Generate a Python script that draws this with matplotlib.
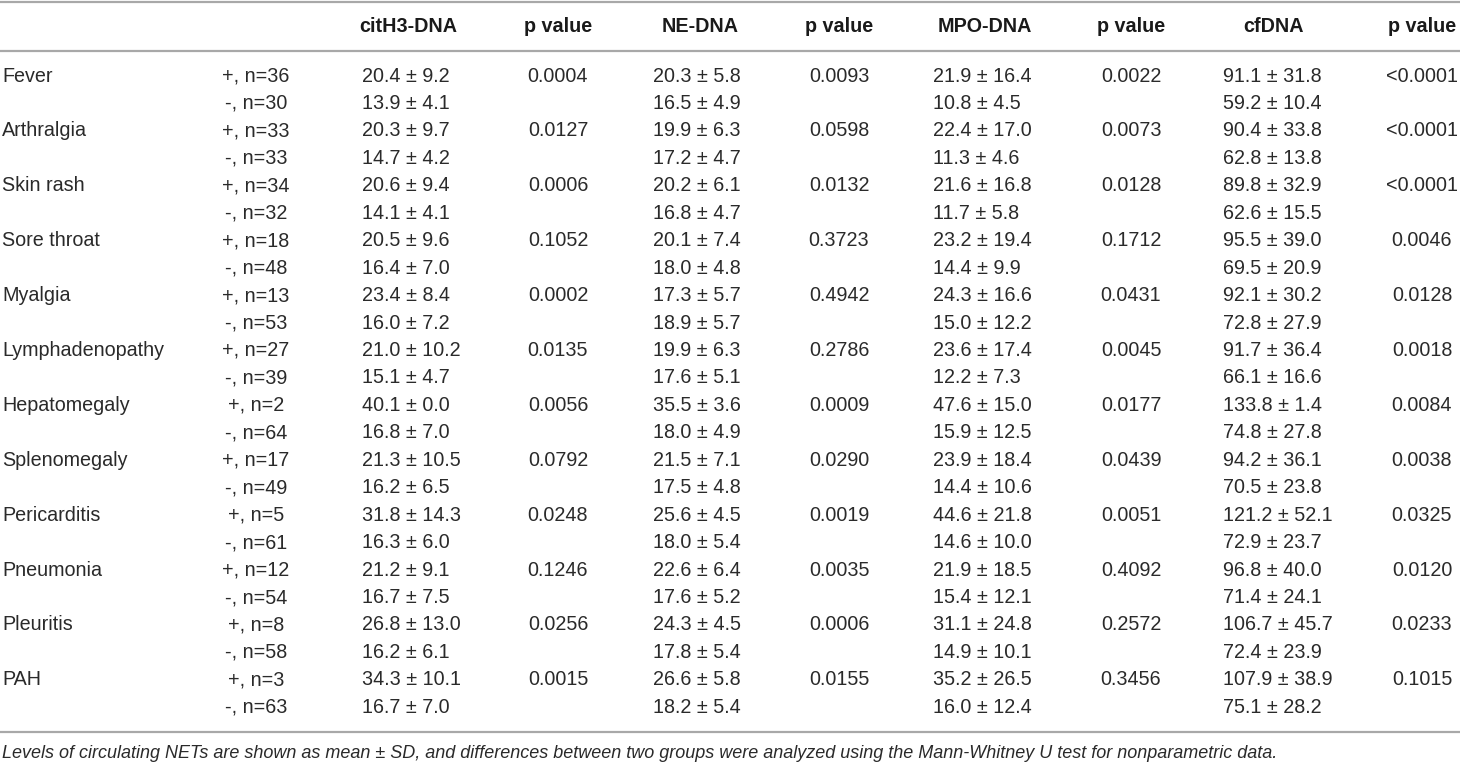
import matplotlib
matplotlib.use("Agg")
import matplotlib.pyplot as plt

categories = ["Fever", "Arthralgia", "Skin rash", "Sore throat", "Myalgia",
              "Lymphadenopathy", "Hepatomegaly", "Splenomegaly", "Pericarditis",
              "Pneumonia", "Pleuritis", "PAH"]
n_pos = [36, 33, 34, 18, 13, 27, 2, 17, 5, 12, 8, 3]
n_neg = [30, 33, 32, 48, 53, 39, 64, 49, 61, 54, 58, 63]

citH3_pos_mean = [20.4, 20.3, 20.6, 20.5, 23.4, 21.0, 40.1, 21.3, 31.8, 21.2, 26.8, 34.3]
citH3_pos_sd = [9.2, 9.7, 9.4, 9.6, 8.4, 10.2, 0.0, 10.5, 14.3, 9.1, 13.0, 10.1]
citH3_neg_mean = [13.9, 14.7, 14.1, 16.4, 16.0, 15.1, 16.8, 16.2, 16.3, 16.7, 16.2, 16.7]
citH3_neg_sd = [4.1, 4.2, 4.1, 7.0, 7.2, 4.7, 7.0, 6.5, 6.0, 7.5, 6.1, 7.0]
citH3_p = ["0.0004", "0.0127", "0.0006", "0.1052", "0.0002", "0.0135",
           "0.0056", "0.0792", "0.0248", "0.1246", "0.0256", "0.0015"]

ne_pos_mean = [20.3, 19.9, 20.2, 20.1, 17.3, 19.9, 35.5, 21.5, 25.6, 22.6, 24.3, 26.6]
ne_pos_sd = [5.8, 6.3, 6.1, 7.4, 5.7, 6.3, 3.6, 7.1, 4.5, 6.4, 4.5, 5.8]
ne_neg_mean = [16.5, 17.2, 16.8, 18.0, 18.9, 17.6, 18.0, 17.5, 18.0, 17.6, 17.8, 18.2]
ne_neg_sd = [4.9, 4.7, 4.7, 4.8, 5.7, 5.1, 4.9, 4.8, 5.4, 5.2, 5.4, 5.4]
ne_p = ["0.0093", "0.0598", "0.0132", "0.3723", "0.4942", "0.2786",
        "0.0009", "0.0290", "0.0019", "0.0035", "0.0006", "0.0155"]

mpo_pos_mean = [21.9, 22.4, 21.6, 23.2, 24.3, 23.6, 47.6, 23.9, 44.6, 21.9, 31.1, 35.2]
mpo_pos_sd = [16.4, 17.0, 16.8, 19.4, 16.6, 17.4, 15.0, 18.4, 21.8, 18.5, 24.8, 26.5]
mpo_neg_mean = [10.8, 11.3, 11.7, 14.4, 15.0, 12.2, 15.9, 14.4, 14.6, 15.4, 14.9, 16.0]
mpo_neg_sd = [4.5, 4.6, 5.8, 9.9, 12.2, 7.3, 12.5, 10.6, 10.0, 12.1, 10.1, 12.4]
mpo_p = ["0.0022", "0.0073", "0.0128", "0.1712", "0.0431", "0.0045",
         "0.0177", "0.0439", "0.0051", "0.4092", "0.2572", "0.3456"]

cf_pos_mean = [91.1, 90.4, 89.8, 95.5, 92.1, 91.7, 133.8, 94.2, 121.2, 96.8, 106.7, 107.9]
cf_pos_sd = [31.8, 33.8, 32.9, 39.0, 30.2, 36.4, 1.4, 36.1, 52.1, 40.0, 45.7, 38.9]
cf_neg_mean = [59.2, 62.8, 62.6, 69.5, 72.8, 66.1, 74.8, 70.5, 72.9, 71.4, 72.4, 75.1]
cf_neg_sd = [10.4, 13.8, 15.5, 20.9, 27.9, 16.6, 27.8, 23.8, 23.7, 24.1, 23.9, 28.2]
cf_p = ["<0.0001", "<0.0001", "<0.0001", "0.0046", "0.0128", "0.0018",
        "0.0084", "0.0038", "0.0325", "0.0120", "0.0233", "0.1015"]

headers = ["citH3-DNA", "p value", "NE-DNA", "p value", "MPO-DNA", "p value", "cfDNA", "p value"]
footnote = ("Levels of circulating NETs are shown as mean \u00b1 SD, and differences between two "
            "groups were analyzed using the Mann-Whitney U test for nonparametric data.")

W, H = 1460, 763
fig = plt.figure(figsize=(W / 100, H / 100), dpi=100)
ax = fig.add_axes([0, 0, 1, 1])
ax.set_xlim(0, W)
ax.set_ylim(H, 0)
ax.axis("off")

FONT = "Liberation Sans"
FS = 14.2
TXT = "#2a2a2a"
LINE = "#a8a8a8"

# rules
for y in (1.5, 50.5, 731.5):
    ax.plot([0, W], [y, y], color=LINE, lw=1.6, solid_capstyle="butt")

header_x = [408, 558, 700, 839, 985, 1131, 1274, 1422]
for x, h in zip(header_x, headers):
    ax.text(x, 27, h, ha="center", va="center", fontsize=FS, fontweight="bold",
            family=FONT, color="#1a1a1a")

value_left = [362, 653, 933, 1223]
p_center = [558, 839, 1131, 1422]
groups = [
    (citH3_pos_mean, citH3_pos_sd, citH3_neg_mean, citH3_neg_sd, citH3_p),
    (ne_pos_mean, ne_pos_sd, ne_neg_mean, ne_neg_sd, ne_p),
    (mpo_pos_mean, mpo_pos_sd, mpo_neg_mean, mpo_neg_sd, mpo_p),
    (cf_pos_mean, cf_pos_sd, cf_neg_mean, cf_neg_sd, cf_p),
]

y0, dy = 76.0, 27.45
for i, cat in enumerate(categories):
    yp = y0 + 2 * i * dy
    yn = yp + dy
    ax.text(2, yp, cat, ha="left", va="center", fontsize=FS, family=FONT, color=TXT)
    ax.text(256, yp, f"+, n={n_pos[i]}", ha="center", va="center", fontsize=FS, family=FONT, color=TXT)
    ax.text(256, yn, f"-, n={n_neg[i]}", ha="center", va="center", fontsize=FS, family=FONT, color=TXT)
    for (pm, ps, nm, ns, pv), xl, xp in zip(groups, value_left, p_center):
        ax.text(xl, yp, f"{pm[i]:.1f} \u00b1 {ps[i]:.1f}", ha="left", va="center",
                fontsize=FS, family=FONT, color=TXT)
        ax.text(xl, yn, f"{nm[i]:.1f} \u00b1 {ns[i]:.1f}", ha="left", va="center",
                fontsize=FS, family=FONT, color=TXT)
        ax.text(xp, yp, pv[i], ha="center", va="center", fontsize=FS, family=FONT, color=TXT)

ax.text(2, 753, footnote, ha="left", va="center", fontsize=13.0, style="italic",
        family=FONT, color=TXT)

fig.savefig("out.png", dpi=100)
